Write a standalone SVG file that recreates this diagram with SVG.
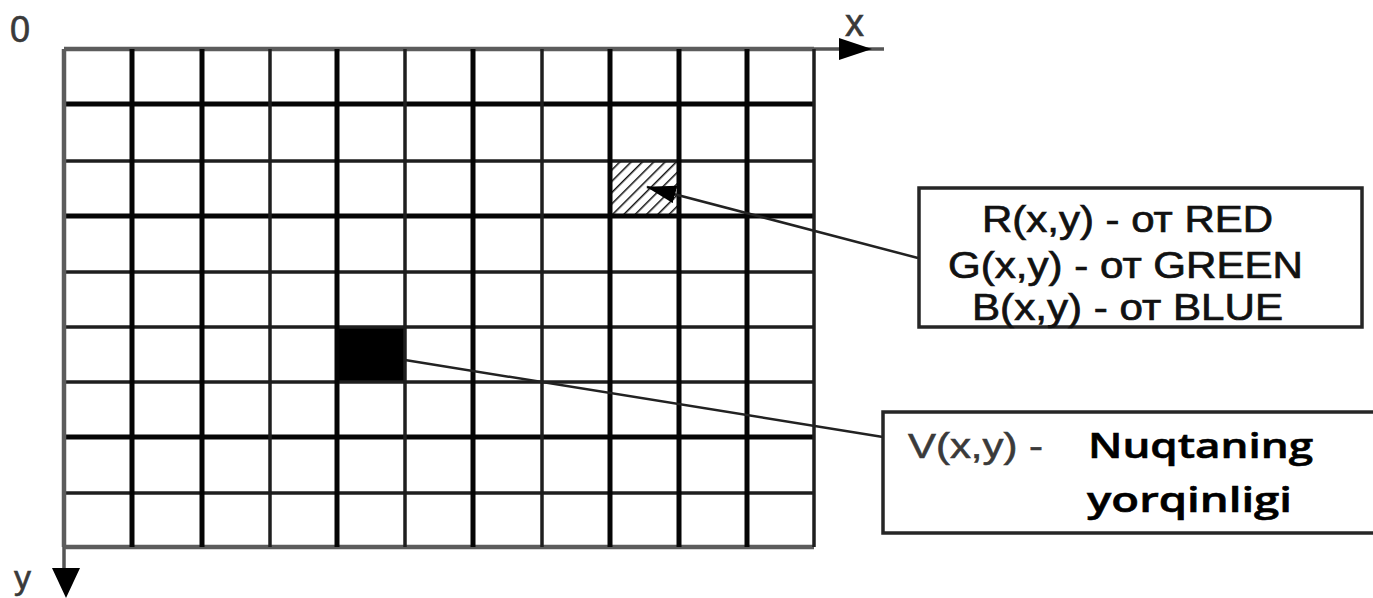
<svg xmlns="http://www.w3.org/2000/svg" width="1373" height="598" viewBox="0 0 1373 598">
  <style>
    .thick { stroke: #050505; stroke-width: 5; fill: none; }
    .mid { stroke: #1e1e1e; stroke-width: 3.5; fill: none; }
    .edge { stroke: #5c5c5c; stroke-width: 4.5; fill: none; }
    .box { fill: #fff; stroke: #262626; stroke-width: 3.5; }
    .conn { stroke: #222; stroke-width: 2.5; fill: none; }
    .axis { stroke: #555; stroke-width: 3.5; fill: none; }
    .lbl { font-family: "Liberation Sans", Arial, sans-serif; fill: #111; stroke: #111; stroke-width: 0.7; }
    .axlbl { font-family: "Liberation Sans", Arial, sans-serif; fill: #3a3a3a; stroke: #3a3a3a; stroke-width: 0.6; }
    .bold { font-family: "Open Sans", "Noto Sans", sans-serif; font-weight: 600; fill: #000; stroke: #000; stroke-width: 0.6; }
  </style>
  <defs>
    <pattern id="hatch" patternUnits="userSpaceOnUse" width="8" height="8" patternTransform="rotate(45)">
      <rect width="8" height="8" fill="#fff"/>
      <line x1="0" y1="0" x2="0" y2="8" stroke="#111" stroke-width="3"/>
    </pattern>
    <marker id="head" viewBox="0 0 30 18" refX="29" refY="9" markerWidth="30" markerHeight="18" markerUnits="userSpaceOnUse" orient="auto">
      <path d="M0,0 L30,9 L0,18 Z" fill="#000"/>
    </marker>
  </defs>

  <!-- axes -->
  <g id="axes">
    <line class="axis" x1="64" y1="49" x2="884" y2="49"/>
    <polygon points="839,38 872,49 839,60" fill="#000"/>
    <line class="axis" x1="64" y1="49" x2="64" y2="575"/>
    <polygon points="52,568 80,568 66,598" fill="#000"/>
    <text class="axlbl" x="10" y="42" font-size="36">0</text>
    <text class="axlbl" x="845" y="36" font-size="38">x</text>
    <text class="axlbl" x="14" y="589" font-size="34">y</text>
  </g>

  <!-- raster grid -->
  <g id="grid">
    <rect x="610" y="161" width="69" height="55" fill="url(#hatch)"/>
    <rect x="337" y="327" width="68" height="55" fill="#000"/>
    <!-- rows -->
    <line class="edge" x1="64" y1="49" x2="814" y2="49"/>
    <line class="thick" x1="64" y1="104" x2="814" y2="104"/>
    <line class="mid" x1="64" y1="161" x2="814" y2="161"/>
    <line class="thick" x1="64" y1="216" x2="814" y2="216"/>
    <line class="mid" x1="64" y1="272" x2="814" y2="272"/>
    <line class="mid" x1="64" y1="327" x2="814" y2="327"/>
    <line class="mid" x1="64" y1="382" x2="814" y2="382"/>
    <line class="thick" x1="64" y1="437" x2="814" y2="437"/>
    <line class="mid" x1="64" y1="493" x2="814" y2="493"/>
    <line class="edge" x1="64" y1="547" x2="814" y2="547"/>
    <!-- columns -->
    <line class="edge" x1="64" y1="49" x2="64" y2="547"/>
    <line class="thick" x1="132" y1="49" x2="132" y2="547"/>
    <line class="thick" x1="202" y1="49" x2="202" y2="547"/>
    <line class="mid" x1="270" y1="49" x2="270" y2="547"/>
    <line class="thick" x1="337" y1="49" x2="337" y2="547"/>
    <line class="mid" x1="405" y1="49" x2="405" y2="547"/>
    <line class="thick" x1="473" y1="49" x2="473" y2="547"/>
    <line class="mid" x1="542" y1="49" x2="542" y2="547"/>
    <line class="thick" x1="610" y1="49" x2="610" y2="547"/>
    <line class="thick" x1="679" y1="49" x2="679" y2="547"/>
    <line class="thick" x1="747" y1="49" x2="747" y2="547"/>
    <line class="mid" x1="814" y1="49" x2="814" y2="547"/>
  </g>

  <!-- leader lines -->
  <g id="connectors">
    <line class="conn" x1="918" y1="258" x2="647" y2="187" marker-end="url(#head)"/>
    <line class="conn" x1="405" y1="360" x2="883" y2="437"/>
  </g>

  <!-- RGB label -->
  <g id="rgb-box">
    <rect class="box" x="919" y="188" width="443" height="139"/>
    <text class="lbl" x="982" y="232" font-size="37" textLength="291" lengthAdjust="spacingAndGlyphs">R(x,y) - от RED</text>
    <text class="lbl" x="948" y="278" font-size="37" textLength="355" lengthAdjust="spacingAndGlyphs">G(x,y) - от GREEN</text>
    <text class="lbl" x="972" y="320" font-size="37" textLength="311" lengthAdjust="spacingAndGlyphs">B(x,y) - от BLUE</text>
  </g>

  <!-- brightness label -->
  <g id="brightness-box">
    <rect class="box" x="883" y="412" width="500" height="121"/>
    <text class="axlbl" x="908" y="458" font-size="35" textLength="135" lengthAdjust="spacingAndGlyphs">V(x,y) -</text>
    <text class="bold" x="1088" y="458" font-size="35" textLength="225" lengthAdjust="spacingAndGlyphs">Nuqtaning</text>
    <text class="bold" x="1087" y="512" font-size="35" textLength="205" lengthAdjust="spacingAndGlyphs">yorqinligi</text>
  </g>
</svg>
